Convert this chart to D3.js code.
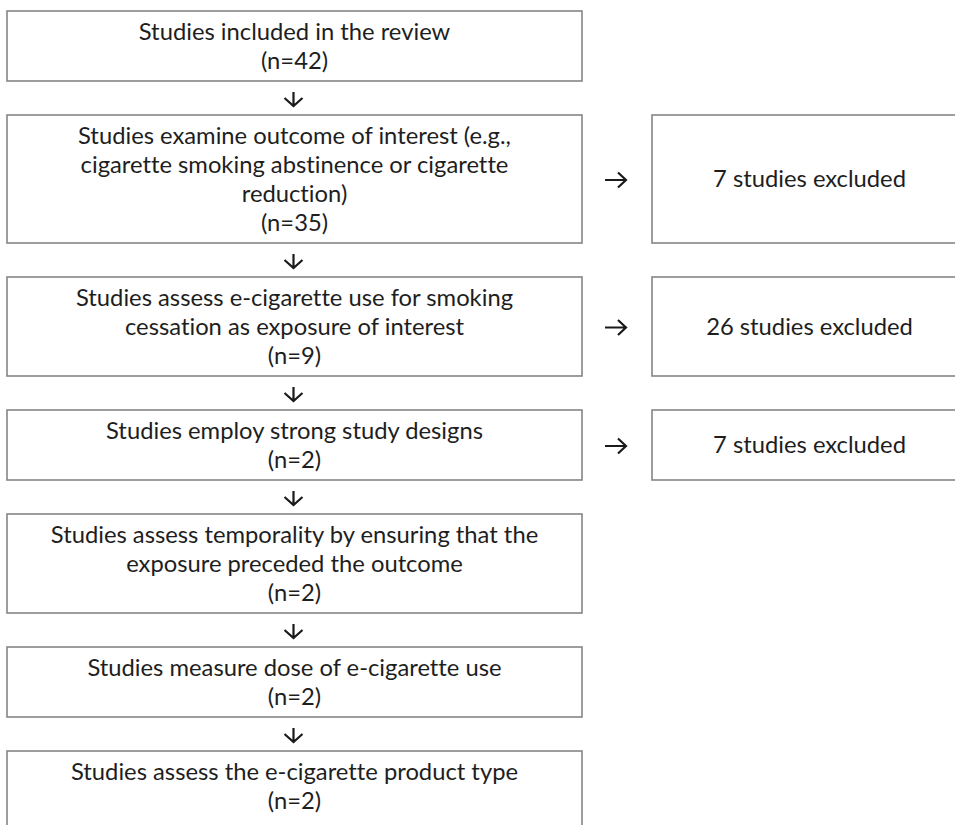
<!DOCTYPE html>
<html>
<head>
<meta charset="utf-8">
<script src="https://cdn.jsdelivr.net/npm/d3@7/dist/d3.min.js"></script>
<style>
  html, body { margin: 0; padding: 0; background: #fff; overflow: hidden; }
  svg { display: block; }
  text { font-variant-ligatures: none; font-feature-settings: "liga" 0, "clig" 0; }
</style>
</head>
<body>
<svg id="chart" width="955" height="825"></svg>
<script>
// ---- Data ----
const stepLabels = [
  ["Studies included in the review"],
  ["Studies examine outcome of interest (e.g.,", "cigarette smoking abstinence or cigarette", "reduction)"],
  ["Studies assess e-cigarette use for smoking", "cessation as exposure of interest"],
  ["Studies employ strong study designs"],
  ["Studies assess temporality by ensuring that the", "exposure preceded the outcome"],
  ["Studies measure dose of e-cigarette use"],
  ["Studies assess the e-cigarette product type"]
];
const stepCounts = [42, 35, 9, 2, 2, 2, 2];
const excludedSteps = [1, 2, 3];      // index of step each exclusion box sits beside
const excludedCounts = [7, 26, 7];

// ---- Layout ----
const W = 955, H = 825;
const svg = d3.select("#chart");
const fontFamily = "Lato, 'Open Sans', sans-serif";
const textColor = "#1e1e1e";
const strokeColor = "#858585";
const arrowColor = "#1a1a1a";

function measure(txt, size) {
  const t = svg.append("text").attr("font-family", fontFamily).attr("font-size", size).text(txt);
  const w = t.node().getComputedTextLength();
  t.remove();
  return w;
}
const fs = 24 * 193 / measure("7 studies excluded", 24);

const lineH = 29, pad = 12, gap = 34, top0 = 11;
const steps = stepLabels.map((lines, i) => ({
  lines: lines.concat([`(n=${stepCounts[i]})`]),
  n: stepCounts[i]
}));
let yCur = top0;
steps.forEach((s, i) => {
  s.h = pad + lineH * s.lines.length;
  s.y0 = yCur;
  s.y1 = yCur + s.h;
  yCur = s.y1 + gap;
});
// the last box runs off the bottom of the picture
const last = steps[steps.length - 1];
last.rh = Math.max(last.h, H - last.y0 + 10);

const x = d3.scaleLinear().domain([0, 1]).range([7, 582]);
const xr = d3.scaleLinear().domain([0, 1]).range([652, 967]);

// main boxes
const box = svg.selectAll("g.step").data(steps).join("g").attr("class", "step");
box.append("rect")
  .attr("x", x(0)).attr("y", d => d.y0)
  .attr("width", x(1) - x(0)).attr("height", d => d.rh || d.h)
  .attr("fill", "#fff").attr("stroke", strokeColor).attr("stroke-width", 1.6);
box.each(function(d) {
  const cy = (d.y0 + d.y1) / 2;
  const k = d.lines.length;
  d3.select(this).selectAll("text").data(d.lines).join("text")
    .attr("x", x(0.5))
    .attr("y", (t, j) => cy + (j - (k - 1) / 2) * lineH)
    .attr("dy", "0.35em")
    .attr("text-anchor", "middle")
    .attr("font-family", fontFamily)
    .attr("font-size", fs)
    .attr("fill", textColor)
    .text(t => t);
});

// down arrows
const downs = steps.slice(0, -1).map((d, i) => ({ cx: x(0.5) - 1, cy: (d.y1 + steps[i + 1].y0) / 2 + 1 }));
svg.selectAll("path.down").data(downs).join("path")
  .attr("class", "down")
  .attr("d", d => `M${d.cx},${d.cy - 7}L${d.cx},${d.cy + 7}M${d.cx - 9},${d.cy - 1}L${d.cx},${d.cy + 7}L${d.cx + 9},${d.cy - 1}`)
  .attr("fill", "none").attr("stroke", arrowColor).attr("stroke-width", 2.2)
  .attr("stroke-linejoin", "miter").attr("stroke-linecap", "butt");

// exclusion boxes
const ex = excludedCounts.map((c, i) => ({ c, s: steps[excludedSteps[i]] }));
const eg = svg.selectAll("g.ex").data(ex).join("g").attr("class", "ex");
eg.append("rect")
  .attr("x", xr(0)).attr("y", d => d.s.y0)
  .attr("width", xr(1) - xr(0)).attr("height", d => d.s.h)
  .attr("fill", "#fff").attr("stroke", strokeColor).attr("stroke-width", 1.6);
eg.append("text")
  .attr("x", xr(0.5))
  .attr("y", d => (d.s.y0 + d.s.y1) / 2)
  .attr("dy", "0.35em")
  .attr("text-anchor", "middle")
  .attr("font-family", fontFamily)
  .attr("font-size", fs)
  .attr("fill", textColor)
  .text(d => `${d.c} studies excluded`);
eg.append("path")
  .attr("d", d => {
    const cx = 616, cy = (d.s.y0 + d.s.y1) / 2 + 1;
    return `M${cx - 11},${cy}L${cx + 10},${cy}M${cx + 2},${cy - 7.5}L${cx + 10},${cy}L${cx + 2},${cy + 7.5}`;
  })
  .attr("fill", "none").attr("stroke", arrowColor).attr("stroke-width", 2.2);
</script>
</body>
</html>
